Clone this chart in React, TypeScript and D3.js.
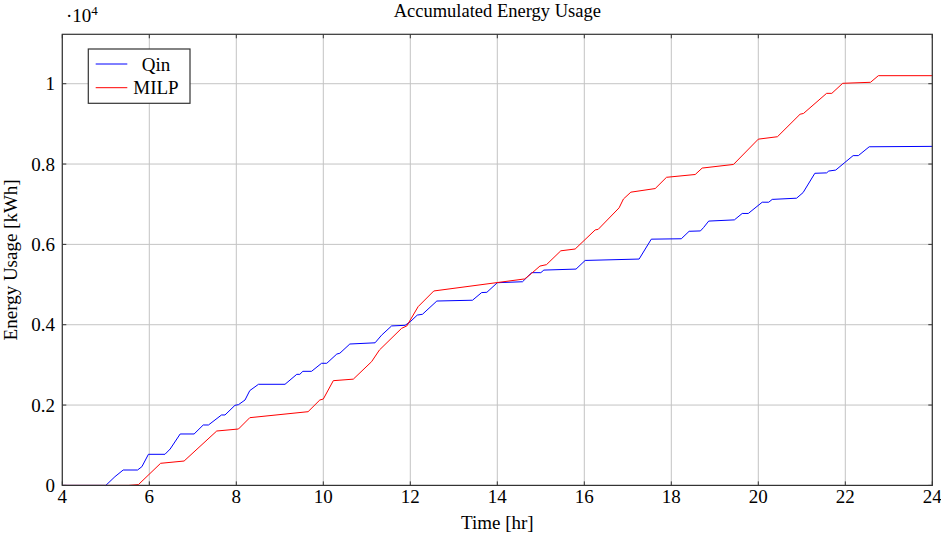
import React from 'react';
import * as d3 from 'd3';

// Qin series: time [hr] and accumulated energy [kWh]
const qinTime = [
  4, 5.0, 5.21, 5.4, 5.73, 5.83, 5.98, 6.36, 6.48, 6.71, 7.03, 7.24, 7.36, 7.66, 7.74, 7.97, 8.05, 8.2, 8.31, 8.51,
  9.12, 9.39, 9.46, 9.53, 9.73, 9.96, 10.08, 10.31, 10.38, 10.61, 11.19, 11.34, 11.57, 11.88, 12.0, 12.16, 12.28,
  12.61, 13.43, 13.64, 13.76, 14.0, 14.58, 14.79, 15.0, 15.07, 15.81, 16.02, 17.26, 17.54, 18.23, 18.41, 18.67,
  18.74, 18.86, 19.45, 19.63, 19.77, 20.09, 20.24, 20.32, 20.88, 21.03, 21.3, 21.57, 21.62, 21.78, 21.99, 22.18,
  22.3, 22.55, 24,
];
const qinEnergy = [
  0, 0, 217, 383, 383, 466, 774, 774, 906, 1280, 1280, 1504, 1504, 1753, 1753, 1994, 2010, 2126, 2360, 2517,
  2517, 2765, 2765, 2840, 2840, 3040, 3040, 3270, 3290, 3520, 3550, 3740, 3970, 3985, 4075, 4240, 4260,
  4590, 4610, 4800, 4807, 5046, 5070, 5296, 5296, 5360, 5385, 5600, 5635, 6130, 6140, 6326, 6335,
  6417, 6580, 6610, 6770, 6770, 7050, 7050, 7120, 7150, 7290, 7770, 7780, 7826, 7850, 8040, 8210,
  8210, 8430, 8440,
];

// MILP series
const milpTime = [
  4, 5.52, 5.75, 6.26, 6.8, 7.55, 8.05, 8.31, 9.65, 9.92, 10.0, 10.23, 10.69, 11.11, 11.29, 11.8, 11.92, 12.18,
  12.54, 14.63, 14.79, 14.98, 15.13, 15.46, 15.79, 16.25, 16.32, 16.8, 16.9, 17.07, 17.63, 17.89, 18.55, 18.71,
  19.43, 20.0, 20.44, 20.96, 21.04, 21.57, 21.69, 21.94, 22.58, 22.76, 24,
];
const milpEnergy = [
  0, 0, 20, 550, 607, 1354, 1404, 1686, 1835, 2126, 2150, 2607, 2645, 3080, 3370, 3910, 3970, 4450,
  4840, 5140, 5280, 5460, 5495, 5840, 5885, 6360, 6375, 6910, 7130, 7300, 7390, 7670, 7740, 7900,
  7990, 8620, 8680, 9240, 9260, 9760, 9760, 10010, 10035, 10200, 10200,
];

const xTicks = [4, 6, 8, 10, 12, 14, 16, 18, 20, 22, 24];
const yTicks = [0, 2000, 4000, 6000, 8000, 10000];
const yTickLabels = ['0', '0.2', '0.4', '0.6', '0.8', '1'];

const seriesNames = ['Qin', 'MILP'];
const seriesColors = ['#0000ff', '#ff0000'];

const width = 941;
const height = 536;
const left = 62.3;
const right = 932.3;
const top = 34.3;
const bottom = 485.4;
const font = "'Liberation Serif', 'Times New Roman', serif";

export default function App() {
  const x = d3.scaleLinear().domain([4, 24]).range([left, right]);
  const y = d3.scaleLinear().domain([0, 11230]).range([bottom, top]);

  // builds the path of one series from its time and energy arrays
  const makePath = (ts: number[], es: number[]) =>
    d3.line<number>()
      .x((d) => x(d))
      .y((d, i) => y(es[i]))(ts) || '';

  const paths = [makePath(qinTime, qinEnergy), makePath(milpTime, milpEnergy)];

  return (
    <svg
      width={width}
      height={height}
      style={{ position: 'absolute', left: 0, top: 0, background: '#fff' }}
      fontFamily={font}
    >
      {/* grid */}
      <g stroke="#c4c4c4" strokeWidth={1}>
        {xTicks.map((t) => (
          <line key={'gx' + t} x1={x(t)} x2={x(t)} y1={top} y2={bottom} />
        ))}
        {yTicks.map((t) => (
          <line key={'gy' + t} x1={left} x2={right} y1={y(t)} y2={y(t)} />
        ))}
      </g>

      {/* tick marks, inward on all four sides */}
      <g stroke="#333" strokeWidth={1}>
        {xTicks.map((t) => (
          <g key={'tx' + t}>
            <line x1={x(t)} x2={x(t)} y1={bottom} y2={bottom - 4} />
            <line x1={x(t)} x2={x(t)} y1={top} y2={top + 4} />
          </g>
        ))}
        {yTicks.map((t) => (
          <g key={'ty' + t}>
            <line x1={left} x2={left + 4} y1={y(t)} y2={y(t)} />
            <line x1={right} x2={right - 4} y1={y(t)} y2={y(t)} />
          </g>
        ))}
      </g>

      {/* series */}
      <g fill="none" strokeWidth={1}>
        {paths.map((d, i) => (
          <path key={i} d={d} stroke={seriesColors[i]} strokeLinejoin="round" />
        ))}
      </g>

      {/* frame */}
      <rect x={left} y={top} width={right - left} height={bottom - top} fill="none" stroke="#333" strokeWidth={1.2} />

      {/* tick labels */}
      <g fontSize={19} fill="#000">
        {xTicks.map((t) => (
          <text key={'lx' + t} x={x(t)} y={503} textAnchor="middle">{t}</text>
        ))}
        {yTicks.map((t, i) => (
          <text key={'ly' + t} x={55} y={y(t) + 6.5} textAnchor="end">{yTickLabels[i]}</text>
        ))}
      </g>

      {/* exponent */}
      <text x={66} y={21.7} fontSize={19}>
        ·10<tspan fontSize={13} dy={-7}>4</tspan>
      </text>

      {/* title and axis labels */}
      <text x={(left + right) / 2} y={16.5} fontSize={18.5} textAnchor="middle">Accumulated Energy Usage</text>
      <text x={(left + right) / 2} y={529} fontSize={19} textAnchor="middle">Time [hr]</text>
      <text
        transform={`translate(16.5,${(top + bottom) / 2}) rotate(-90)`}
        fontSize={19}
        textAnchor="middle"
      >
        Energy Usage [kWh]
      </text>

      {/* legend */}
      <g>
        <rect x={88.3} y={49} width={101.7} height={54.3} fill="#fff" stroke="#333" strokeWidth={1.2} />
        {seriesNames.map((n, i) => (
          <g key={n}>
            <line x1={95.7} x2={127.3} y1={64 + i * 23.7} y2={64 + i * 23.7} stroke={seriesColors[i]} strokeWidth={1} />
            <text x={156} y={64 + i * 23.7 + 6.5} fontSize={19} textAnchor="middle">{n}</text>
          </g>
        ))}
      </g>
    </svg>
  );
}
